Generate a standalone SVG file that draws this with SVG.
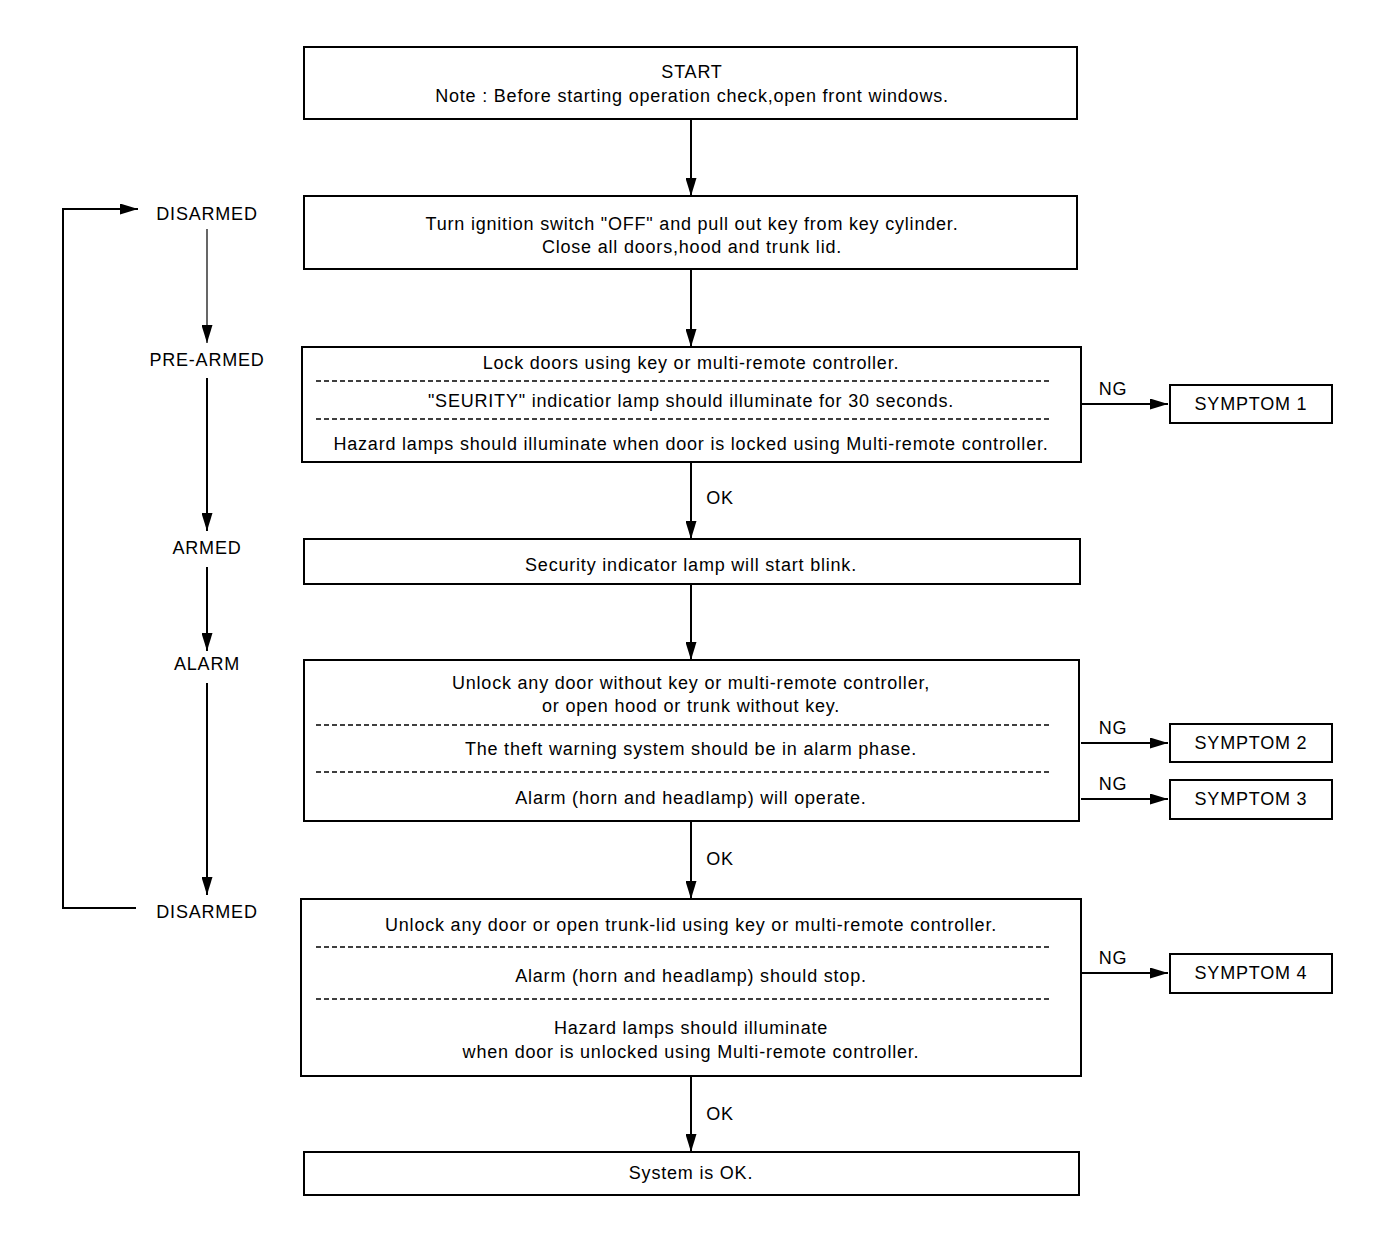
<svg xmlns="http://www.w3.org/2000/svg" width="1376" height="1244" viewBox="0 0 1376 1244">
<defs>
<style>
text{font-family:"Liberation Sans",Arial,sans-serif;font-size:18px;letter-spacing:0.8px;fill:#000;text-anchor:middle}
.box{fill:#fff;stroke:#000;stroke-width:2}
.dash{stroke:#000;stroke-width:1.6;stroke-dasharray:5,3;fill:none}
.ln{stroke:#000;stroke-width:2;fill:none}
.thin{stroke:#000;stroke-width:1.2;fill:none}
</style>
<marker id="ah" markerUnits="userSpaceOnUse" markerWidth="18" markerHeight="11" refX="18" refY="5.5" orient="auto" viewBox="0 0 18 11">
<path d="M0,0 L18,5.5 L0,11 Z" fill="#000"/>
</marker>
</defs>
<rect width="1376" height="1244" fill="#fff"/>
<g id="connectors">
<line class="ln" x1="691" y1="119" x2="691" y2="196" marker-end="url(#ah)"/>
<line class="ln" x1="691" y1="269" x2="691" y2="347" marker-end="url(#ah)"/>
<line class="ln" x1="691" y1="462" x2="691" y2="539" marker-end="url(#ah)"/>
<line class="ln" x1="691" y1="584" x2="691" y2="660" marker-end="url(#ah)"/>
<line class="ln" x1="691" y1="821" x2="691" y2="899" marker-end="url(#ah)"/>
<line class="ln" x1="691" y1="1076" x2="691" y2="1152" marker-end="url(#ah)"/>
<text x="720" y="504">OK</text>
<text x="720" y="865">OK</text>
<text x="720" y="1120">OK</text>
<line class="ln" x1="1081" y1="404" x2="1168" y2="404" marker-end="url(#ah)"/>
<line class="ln" x1="1081" y1="743" x2="1168" y2="743" marker-end="url(#ah)"/>
<line class="ln" x1="1081" y1="799" x2="1168" y2="799" marker-end="url(#ah)"/>
<line class="ln" x1="1081" y1="973" x2="1168" y2="973" marker-end="url(#ah)"/>
<text x="1113" y="395">NG</text>
<text x="1113" y="734">NG</text>
<text x="1113" y="790">NG</text>
<text x="1113" y="964">NG</text>
<polyline class="ln" points="136,908 63,908 63,209 138,209" marker-end="url(#ah)"/>
<line class="thin" x1="207" y1="229" x2="207" y2="343" marker-end="url(#ah)"/>
<line class="ln" x1="207" y1="378" x2="207" y2="531" marker-end="url(#ah)"/>
<line class="ln" x1="207" y1="567" x2="207" y2="651" marker-end="url(#ah)"/>
<line class="ln" x1="207" y1="683" x2="207" y2="895" marker-end="url(#ah)"/>
</g>
<g id="state-disarmed-1"><text x="207" y="220">DISARMED</text></g>
<g id="state-prearmed"><text x="207" y="366">PRE-ARMED</text></g>
<g id="state-armed"><text x="207" y="554">ARMED</text></g>
<g id="state-alarm"><text x="207" y="670">ALARM</text></g>
<g id="state-disarmed-2"><text x="207" y="918">DISARMED</text></g>
<g id="start">
<rect class="box" x="304" y="47" width="773" height="72"/>
<text x="692" y="78">START</text>
<text x="692" y="102">Note : Before starting operation check,open front windows.</text>
</g>
<g id="ignition">
<rect class="box" x="304" y="196" width="773" height="73"/>
<text x="692" y="230">Turn ignition switch "OFF" and pull out key from key cylinder.</text>
<text x="692" y="253">Close all doors,hood and trunk lid.</text>
</g>
<g id="lock">
<rect class="box" x="302" y="347" width="779" height="115"/>
<line class="dash" x1="316" y1="381" x2="1052" y2="381"/>
<line class="dash" x1="316" y1="419" x2="1052" y2="419"/>
<text x="691" y="369">Lock doors using key or multi-remote controller.</text>
<text x="691" y="407">"SEURITY" indicatior lamp should illuminate for 30 seconds.</text>
<text x="691" y="450">Hazard lamps should illuminate when door is locked using Multi-remote controller.</text>
</g>
<g id="security">
<rect class="box" x="304" y="539" width="776" height="45"/>
<text x="691" y="571">Security indicator lamp will start blink.</text>
</g>
<g id="unlock">
<rect class="box" x="304" y="660" width="775" height="161"/>
<line class="dash" x1="316" y1="725" x2="1052" y2="725"/>
<line class="dash" x1="316" y1="772" x2="1052" y2="772"/>
<text x="691" y="689">Unlock any door without key or multi-remote controller,</text>
<text x="691" y="712">or open hood or trunk without key.</text>
<text x="691" y="755">The theft warning system should be in alarm phase.</text>
<text x="691" y="804">Alarm (horn and headlamp) will operate.</text>
</g>
<g id="disarm-check">
<rect class="box" x="301" y="899" width="780" height="177"/>
<line class="dash" x1="316" y1="947" x2="1052" y2="947"/>
<line class="dash" x1="316" y1="999" x2="1052" y2="999"/>
<text x="691" y="931">Unlock any door or open trunk-lid using key or multi-remote controller.</text>
<text x="691" y="982">Alarm (horn and headlamp) should stop.</text>
<text x="691" y="1034">Hazard lamps should illuminate</text>
<text x="691" y="1058">when door is unlocked using Multi-remote controller.</text>
</g>
<g id="system-ok">
<rect class="box" x="304" y="1152" width="775" height="43"/>
<text x="691" y="1179">System is OK.</text>
</g>
<g id="symptom1"><rect class="box" x="1170" y="385" width="162" height="38"/><text x="1251" y="410">SYMPTOM 1</text></g>
<g id="symptom2"><rect class="box" x="1170" y="724" width="162" height="38"/><text x="1251" y="749">SYMPTOM 2</text></g>
<g id="symptom3"><rect class="box" x="1170" y="780" width="162" height="39"/><text x="1251" y="805">SYMPTOM 3</text></g>
<g id="symptom4"><rect class="box" x="1170" y="954" width="162" height="39"/><text x="1251" y="979">SYMPTOM 4</text></g>
</svg>
